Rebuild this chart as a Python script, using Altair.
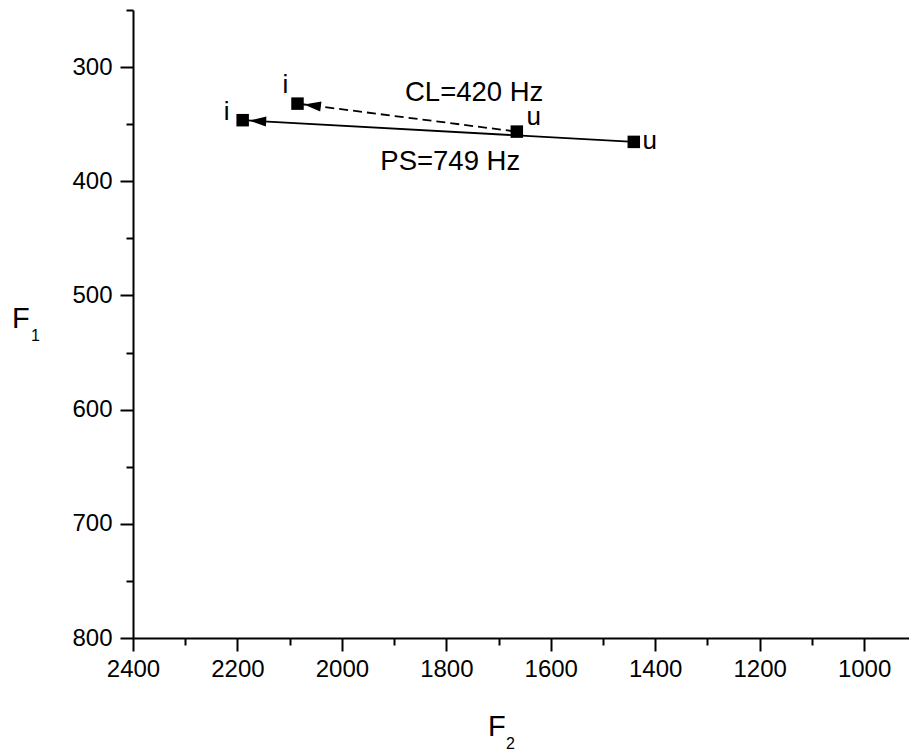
import math
import altair as alt
import pandas as pd

# ---------------- data ----------------
vowels = ["i", "u"]
ps_f2 = [2190, 1441]
ps_f1 = [346.5, 365.5]
cl_f2 = [2085, 1665]
cl_f1 = [332, 356.5]
diff_text = {"PS": "PS=749 Hz", "CL": "CL=420 Hz"}
x_ticks = list(range(1000, 2401, 100))
y_ticks = list(range(250, 801, 50))

# ---------------- layout ----------------
W, H = 776, 628
X_DOM = [914, 2400]
Y_DOM = [250, 800]
FONT = "Liberation Sans"
sx = W / (X_DOM[1] - X_DOM[0])
sy = H / (Y_DOM[1] - Y_DOM[0])

rows = []
for s, f2s, f1s in [("PS", ps_f2, ps_f1), ("CL", cl_f2, cl_f1)]:
    for v, a, b in zip(vowels, f2s, f1s):
        rows.append(dict(series=s, vowel=v, F2=a, F1=b))
pts = pd.DataFrame(rows)

arrows = []
mids = []
for s, f2s, f1s in [("PS", ps_f2, ps_f1), ("CL", cl_f2, cl_f1)]:
    dxp = (f2s[0] - f2s[1]) * sx
    dyp = (f1s[1] - f1s[0]) * sy
    ang = math.degrees(math.atan2(dyp, dxp))
    arrows.append(dict(series=s, F2=f2s[0], F1=f1s[0], ang=ang))
    mids.append(dict(series=s, F2=(f2s[0] + f2s[1]) / 2, F1=(f1s[0] + f1s[1]) / 2,
                     label=diff_text[s]))
arrows = pd.DataFrame(arrows)
mids = pd.DataFrame(mids)

x_enc = alt.X(
    "F2:Q",
    scale=alt.Scale(domain=X_DOM, reverse=True, nice=False, zero=False),
    axis=alt.Axis(
        values=x_ticks, format="d", title=None,
        labelExpr="datum.value % 200 === 0 ? datum.label : ''",
        tickSize={"condition": {"test": "datum.value % 200 === 0", "value": 13}, "value": 7},
        labelPadding=6, labelFlush=False, labelOverlap=False,
    ),
)
y_enc = alt.Y(
    "F1:Q",
    scale=alt.Scale(domain=Y_DOM, reverse=True, nice=False, zero=False),
    axis=alt.Axis(
        values=y_ticks, format="d", title=None,
        labelExpr="datum.value % 100 === 0 ? datum.label : ''",
        tickSize={"condition": {"test": "datum.value % 100 === 0", "value": 13}, "value": 7},
        labelPadding=8, labelFlush=False, labelOverlap=False,
    ),
)

base = alt.Chart(pts).encode(x=x_enc, y=y_enc)

ps_line = base.transform_filter(alt.datum.series == "PS").mark_line(
    color="black", strokeWidth=1.8).encode(order="vowel:N")
cl_line = base.transform_filter(alt.datum.series == "CL").mark_line(
    color="black", strokeWidth=1.8, strokeDash=[9, 5]).encode(order="vowel:N")

markers = base.mark_point(shape="square", filled=True, color="black", size=156, opacity=1)

arrow_path = "M 0.27 0 L 0.98 -0.21 L 0.98 0.21 Z"
heads = alt.Chart(arrows).mark_point(
    shape=arrow_path, filled=True, color="black", size=2304, opacity=1, strokeWidth=0
).encode(
    x=alt.X("F2:Q"), y=alt.Y("F1:Q"),
    angle=alt.Angle("ang:Q", scale=None),
)


def vlabel(series, vowel, dx, dy):
    return alt.Chart(pts).transform_filter(
        (alt.datum.series == series) & (alt.datum.vowel == vowel)
    ).mark_text(font=FONT, fontSize=26, color="black", align="center",
                baseline="alphabetic", dx=dx, dy=dy).encode(
        x="F2:Q", y="F1:Q", text="vowel:N")


labels = [
    vlabel("PS", "i", -16, 0),
    vlabel("CL", "i", -12, -11),
    vlabel("CL", "u", 17, -7),
    vlabel("PS", "u", 16, 7),
]


def dlabel(series, dx, dy):
    return alt.Chart(mids).transform_filter(alt.datum.series == series).mark_text(
        font=FONT, fontSize=27.5, color="black", align="center",
        baseline="alphabetic", dx=dx, dy=dy).encode(
        x="F2:Q", y="F1:Q", text="label:N")


diffs = [dlabel("CL", 67, -17), dlabel("PS", 12, 39)]

titles_df = pd.DataFrame({"t": ["F"]})


def ttl(text, x, y, size):
    return alt.Chart(titles_df).mark_text(
        text=text, font=FONT, fontSize=size, color="black", align="left",
        baseline="alphabetic").encode(x=alt.value(x), y=alt.value(y))


titles = [
    ttl("F", -121, 318, 29),
    ttl("1", -102, 331, 16),
    ttl("F", 355, 726, 29),
    ttl("2", 373, 739, 16),
]

chart = alt.layer(
    ps_line, cl_line, heads, markers, *labels, *diffs, *titles
).properties(
    width=W, height=H,
    padding={"left": 133, "top": 10, "right": 0, "bottom": 114},
    autosize=alt.AutoSizeParams(type="none"),
).configure_view(stroke=None).configure_axis(
    grid=False, domainColor="black", domainWidth=2, tickColor="black", tickWidth=2,
    labelFont=FONT, labelFontSize=24, labelColor="black",
)

chart.save("out.html", embed_options={"renderer": "svg", "actions": False})
